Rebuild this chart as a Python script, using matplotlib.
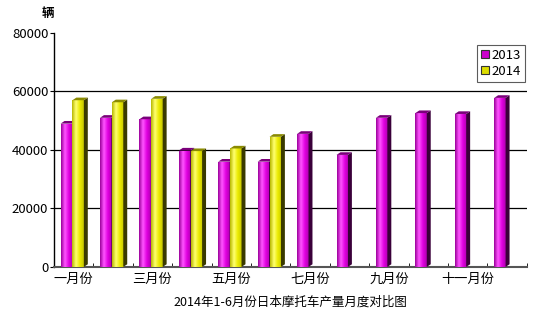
import matplotlib
matplotlib.use('Agg')
import matplotlib.pyplot as plt
import numpy as np
from matplotlib.colors import LinearSegmentedColormap
from matplotlib.patches import Polygon, Rectangle

plt.rcParams['font.family'] = ['Noto Sans CJK SC', 'DejaVu Sans']

months = ['一月份', '二月份', '三月份', '四月份', '五月份', '六月份',
          '七月份', '八月份', '九月份', '十月份', '十一月份', '十二月份']
y2013 = [49000, 51000, 50500, 39800, 36000, 36000,
         45500, 38300, 51000, 52600, 52300, 57800]
y2014 = [57000, 56300, 57500, 39600, 40500, 44500]
series_names = ['2013', '2014']

fig = plt.figure(figsize=(5.5, 3.14), dpi=100)
ax = fig.add_axes([0.098, 0.150, 0.860, 0.745])

w = 0.29      # front face width
dx = 0.10     # depth in x
dy = 900      # depth in y

cm_mag = LinearSegmentedColormap.from_list(
    'mag', ['#9a009a', '#ff55ff', '#e000e0', '#b000b0'])
cm_yel = LinearSegmentedColormap.from_list(
    'yel', ['#b8b800', '#ffff70', '#eaea00', '#c8c800'])
grad = np.linspace(0, 1, 64).reshape(1, -1)


def bar3d(x0, h, cmap, side, top):
    im = ax.imshow(grad, extent=[x0, x0 + w, 0, h], cmap=cmap,
                   aspect='auto', origin='lower', zorder=3)
    rect = Rectangle((x0, 0), w, h, transform=ax.transData)
    im.set_clip_path(rect)
    ax.add_patch(Polygon([(x0 + w, 0), (x0 + w + dx, dy), (x0 + w + dx, h + dy),
                          (x0 + w, h)], closed=True, fc=side, ec='none', zorder=3))
    ax.add_patch(Polygon([(x0, h), (x0 + dx, h + dy), (x0 + w + dx, h + dy),
                          (x0 + w, h)], closed=True, fc=top, ec='none', zorder=3))


for i, v in enumerate(y2013):
    bar3d(i - 0.33, v, cm_mag, '#3a003a', '#7a007a')
for i, v in enumerate(y2014):
    bar3d(i - 0.03, v, cm_yel, '#3a3a00', '#8a8a00')

ax.set_xlim(-0.5, 11.5)
ax.set_ylim(0, 80000)
ax.set_yticks([0, 20000, 40000, 60000, 80000])
ax.set_yticklabels(['0', '20000', '40000', '60000', '80000'], fontsize=9.5)
for yv in [20000, 40000, 60000]:
    ax.axhline(yv, color='black', lw=0.9, zorder=1)

ax.set_xticks(range(0, 12, 2))
ax.set_xticklabels(months[::2], fontsize=9.5)
ax.tick_params(axis='x', length=0, pad=4)
ax.set_xticks(np.arange(-0.5, 12, 1), minor=True)
ax.tick_params(axis='x', which='minor', length=3, direction='in')
ax.tick_params(axis='y', length=3, pad=1)

for s in ['top', 'right']:
    ax.spines[s].set_visible(False)
ax.spines['left'].set_linewidth(1.0)
ax.spines['bottom'].set_linewidth(1.5)
ax.spines['bottom'].set_color('#555555')

ax.set_xlabel('2014年1-6月份日本摩托车产量月度对比图', fontsize=9, labelpad=7)
fig.text(0.088, 0.958, '辆', fontsize=9, ha='center', va='center',
         fontweight='bold')

h1 = Rectangle((0, 0), 1, 1, fc='#cc00cc', ec='#333333', lw=0.8)
h2 = Rectangle((0, 0), 1, 1, fc='#dddd00', ec='#333333', lw=0.8)
leg = ax.legend([h1, h2], series_names, loc='upper right',
                bbox_to_anchor=(0.995, 0.95), fontsize=9.5, frameon=True,
                fancybox=False, handlelength=0.6, handleheight=0.6,
                handletextpad=0.2, borderpad=0.3, labelspacing=0.25,
                borderaxespad=0)
leg.get_frame().set_edgecolor('#333333')
leg.get_frame().set_linewidth(0.8)

fig.savefig('out.png', dpi=100)
